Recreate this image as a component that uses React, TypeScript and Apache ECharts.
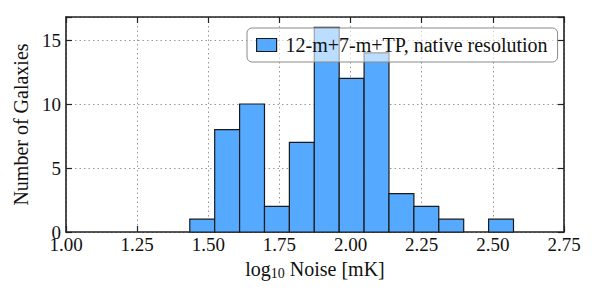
import React, { useEffect, useRef } from "react";
import * as echarts from "echarts";

const binEdges = [1.435, 1.5225, 1.61, 1.6975, 1.785, 1.8725, 1.96, 2.0475, 2.135, 2.2225, 2.31, 2.3975, 2.485, 2.5725];
const counts = [1, 8, 10, 2, 7, 16, 12, 14, 3, 2, 1, 0, 1];
const seriesName = "12-m+7-m+TP, native resolution";
const xTitle = "log{sub|10} Noise [mK]";
const yTitle = "Number of Galaxies";

const FONT = '"Liberation Serif", "DejaVu Serif", serif';
const FS = 19;
const FT = 20;
const FILL = "#55aaff";
const EDGE = "#1a1a1a";
const AX = "#222";

export default function App() {
  const ref = useRef<HTMLDivElement>(null);
  useEffect(() => {
    if (!ref.current) return;
    const chart = echarts.init(ref.current, null, { renderer: "svg" });
    const data = counts.map((c, i) => [binEdges[i], binEdges[i + 1], c]);
    const xCommon = {
      type: "value",
      min: 1,
      max: 2.75,
      interval: 0.25,
      axisLine: { show: true, onZero: false, lineStyle: { color: AX, width: 1.6 } },
      axisTick: { show: true, inside: true, length: 6, lineStyle: { color: AX, width: 1.2 } },
    };
    const yCommon = {
      type: "value",
      min: 0,
      max: 16.8,
      interval: 5,
      axisLine: { show: true, onZero: false, lineStyle: { color: AX, width: 1.6 } },
      axisTick: { show: true, inside: true, length: 6, lineStyle: { color: AX, width: 1.2 } },
    };
    chart.setOption({
      animation: false,
      backgroundColor: "#fff",
      textStyle: { fontFamily: FONT },
      grid: { left: 66, right: 36, top: 17, bottom: 68, containLabel: false },
      legend: {
        show: true,
        left: 247,
        top: 28,
        orient: "horizontal",
        padding: [7, 10, 7, 9],
        itemWidth: 20,
        itemHeight: 13,
        backgroundColor: "rgba(255,255,255,0.6)",
        borderColor: "#8a8a8a",
        borderWidth: 1,
        borderRadius: 5,
        z: 10,
        textStyle: { fontFamily: FONT, fontSize: 20, color: "#111", padding: [0, 0, 0, 4] },
        data: [
          {
            name: seriesName,
            icon: "rect",
            itemStyle: { color: FILL, borderColor: EDGE, borderWidth: 1.2 },
          },
        ],
      },
      xAxis: [
        {
          ...xCommon,
          position: "bottom",
          name: xTitle,
          nameLocation: "middle",
          nameGap: 25,
          nameTextStyle: {
            fontFamily: FONT,
            fontSize: FT,
            color: "#111",
            rich: { sub: { fontFamily: FONT, fontSize: 14, color: "#111", verticalAlign: "bottom", padding: [9, 0, 0, 0] } },
          },
          axisLabel: {
            show: true,
            margin: 3,
            fontFamily: FONT,
            fontSize: FS,
            color: "#111",
            formatter: (v: number) => v.toFixed(2),
          },
          splitLine: { show: true, lineStyle: { color: "#999", width: 1, type: [1.5, 3] } },
        },
        {
          ...xCommon,
          position: "top",
          axisLabel: { show: false },
          splitLine: { show: false },
        },
      ],
      yAxis: [
        {
          ...yCommon,
          position: "left",
          name: yTitle,
          nameLocation: "middle",
          nameGap: 30,
          nameTextStyle: { fontFamily: FONT, fontSize: FT, color: "#111" },
          axisLabel: {
            show: true,
            margin: 5,
            fontFamily: FONT,
            fontSize: FS,
            color: "#111",
            formatter: (v: number) => (v % 5 === 0 ? String(v) : ""),
          },
          splitLine: { show: true, lineStyle: { color: "#999", width: 1, type: [1.5, 3] } },
        },
        {
          ...yCommon,
          position: "right",
          axisLabel: { show: false },
          splitLine: { show: false },
        },
      ],
      series: [
        {
          type: "custom",
          name: seriesName,
          xAxisIndex: 0,
          yAxisIndex: 0,
          z: 3,
          itemStyle: { color: FILL, borderColor: EDGE, borderWidth: 1.2 },
          encode: { x: [0, 1], y: 2 },
          data,
          renderItem: (params: any, api: any) => {
            const x0 = api.value(0);
            const x1 = api.value(1);
            const c = api.value(2);
            if (!c) return null;
            const p0 = api.coord([x0, c]);
            const p1 = api.coord([x1, 0]);
            return {
              type: "rect",
              shape: { x: p0[0], y: p0[1], width: p1[0] - p0[0], height: p1[1] - p0[1] },
              style: { fill: FILL, stroke: EDGE, lineWidth: 1.2 },
            };
          },
        },
      ],
    });
    return () => chart.dispose();
  }, []);
  return <div ref={ref} style={{ width: 600, height: 300, margin: -8 }} />;
}
